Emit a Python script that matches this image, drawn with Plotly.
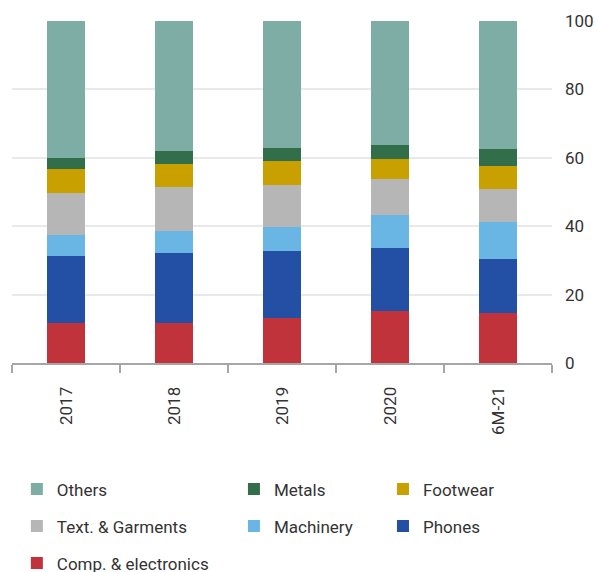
import plotly.graph_objects as go

# Share of exports by product group, % of total
periods = ["2017", "2018", "2019", "2020", "6M-21"]

comp_electronics = [11.6, 11.8, 13.2, 15.3, 14.7]
phones = [19.7, 20.4, 19.6, 18.4, 15.7]
machinery = [6.1, 6.4, 7.0, 9.6, 10.8]
textiles = [12.3, 12.9, 12.3, 10.5, 9.7]
footwear = [7.0, 6.7, 7.0, 5.8, 6.7]
metals = [3.2, 3.8, 3.7, 4.1, 4.9]
others = [40.1, 38.0, 37.2, 36.3, 37.5]

# (name, values, colour, legend column, rank within column), stacked bottom to top
series = [
    ("Comp. & electronics", comp_electronics, "#c1333b", "legend", 3),
    ("Phones", phones, "#234fa4", "legend3", 2),
    ("Machinery", machinery, "#69b5e3", "legend2", 2),
    ("Text. & Garments", textiles, "#b6b6b6", "legend", 2),
    ("Footwear", footwear, "#c8a000", "legend3", 1),
    ("Metals", metals, "#336e4b", "legend2", 1),
    ("Others", others, "#7eada6", "legend", 1),
]

fig = go.Figure()
for name, vals, color, leg, rank in series:
    fig.add_trace(go.Bar(
        x=periods, y=vals, name=name, legend=leg, legendrank=rank,
        legendgroup=name, marker=dict(color=color, line=dict(width=0)),
    ))

font = dict(family="Roboto, Arial, sans-serif", size=17, color="#333333")
legend_common = dict(
    orientation="v", xref="paper", yref="container",
    yanchor="top", y=0.176, xanchor="left",
    font=font, traceorder="grouped", tracegroupgap=12,
    bgcolor="rgba(0,0,0,0)", itemwidth=30,
)

fig.update_layout(
    width=598, height=572,
    margin=dict(l=12, r=46, t=21, b=209),
    barmode="stack", bargap=0.65,
    plot_bgcolor="white", paper_bgcolor="white",
    font=font, showlegend=True,
    legend=dict(legend_common, x=0.009),
    legend2=dict(legend_common, x=0.411),
    legend3=dict(legend_common, x=0.687),
    xaxis=dict(
        type="category", tickangle=-90, tickson="boundaries",
        ticks="outside", ticklen=8, tickcolor="#a6a6a6", tickwidth=1.5,
        showline=True, linecolor="#a6a6a6", linewidth=2,
        showgrid=False, ticklabelstandoff=15, automargin=False,
        tickfont=font,
    ),
    yaxis=dict(
        side="right", range=[0, 100], dtick=20,
        showgrid=True, gridcolor="#e9e9e9", gridwidth=1.5,
        zeroline=False, ticks="", ticklabelstandoff=12, automargin=False,
        tickfont=font,
    ),
)

fig.write_html("out.html")
